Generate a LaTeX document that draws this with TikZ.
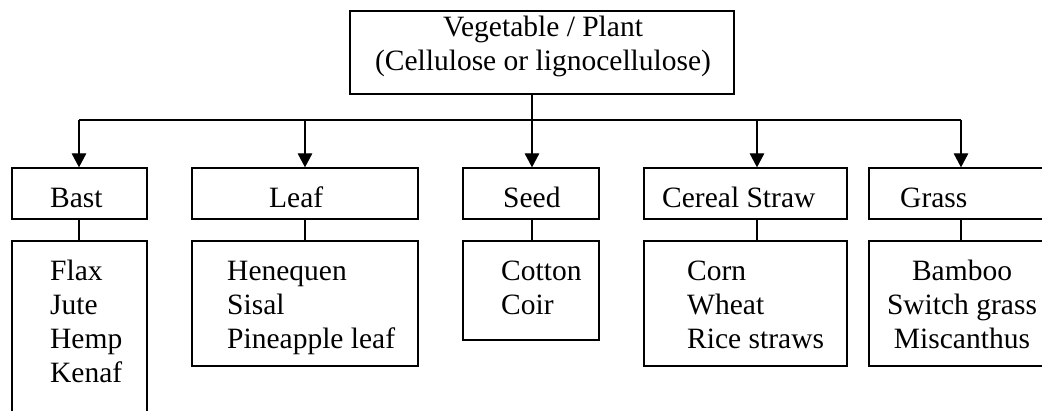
\documentclass[tikz,border=0pt]{standalone}
\usepackage{fontspec}
\setmainfont{Liberation Serif}
\usetikzlibrary{arrows.meta}
\begin{document}
\begin{tikzpicture}[x=1pt,y=-1pt,
  box/.style={draw,line width=1.3pt,inner sep=0pt,minimum width=#1},
  lbl/.style={inner sep=0pt,anchor=base west,font=\fontsize{29.5}{34}\selectfont},
  clbl/.style={inner sep=0pt,anchor=base,font=\fontsize{29.5}{34}\selectfont},
  conn/.style={line width=1.3pt},
  arr/.style={line width=1.3pt,-{Triangle[length=14pt,width=14.5pt]}}]
\useasboundingbox (0,0) rectangle (1042,411);
% root
\node[box=384pt,minimum height=83pt] (root) at (542,52.5) {};
\node[clbl] (root1) at (543,37) {Vegetable / Plant};
\node[clbl] (root2) at (543,71) {(Cellulose or lignocellulose)};
% categories
\node[box=135pt,minimum height=51pt] (bast) at (79.5,193.5) {};
\node[box=226pt,minimum height=51pt] (leaf) at (305,193.5) {};
\node[box=136pt,minimum height=51pt] (seed) at (531,193.5) {};
\node[box=203pt,minimum height=51pt] (cereal) at (745.5,193.5) {};
\node[box=184pt,minimum height=51pt] (grass) at (961,193.5) {};
\node[lbl] (bastt) at (50,208) {Bast};
\node[lbl] (leaft) at (269,208) {Leaf};
\node[lbl] (seedt) at (503,208) {Seed};
\node[lbl] (cerealt) at (662,208) {Cereal Straw};
\node[lbl] (grasst) at (900,208) {Grass};
% lists
\node[box=135pt,minimum height=200pt] (bastl) at (79.5,341) {};
\node[box=226pt,minimum height=125pt] (leafl) at (305,303.5) {};
\node[box=136pt,minimum height=99pt] (seedl) at (531,290.5) {};
\node[box=203pt,minimum height=125pt] (cereall) at (745.5,303.5) {};
\node[box=184pt,minimum height=125pt] (grassl) at (961,303.5) {};
\foreach \t [count=\i] in {Flax,Jute,Hemp,Kenaf}
  \node[lbl] (bastl\i) at (50,{281+34*(\i-1)}) {\t};
\foreach \t [count=\i] in {Henequen,Sisal,Pineapple leaf}
  \node[lbl] (leafl\i) at (227,{281+34*(\i-1)}) {\t};
\foreach \t [count=\i] in {Cotton,Coir}
  \node[lbl] (seedl\i) at (501,{281+34*(\i-1)}) {\t};
\foreach \t [count=\i] in {Corn,Wheat,Rice straws}
  \node[lbl] (cereall\i) at (687,{281+34*(\i-1)}) {\t};
\foreach \t [count=\i] in {Bamboo,Switch grass,Miscanthus}
  \node[clbl] (grassl\i) at (962,{281+34*(\i-1)}) {\t};
% bus
\coordinate (rb) at (532,120);
\coordinate (bb) at (79,120);
\coordinate (lb) at (305,120);
\coordinate (cb) at (757,120);
\coordinate (gb) at (961,120);
\draw[conn] (bb) -- (gb);
\draw[arr] (root.south -| rb) -- (rb |- seed.north);
\draw[arr] (bb) -- (bb |- bast.north);
\draw[arr] (lb) -- (lb |- leaf.north);
\draw[arr] (cb) -- (cb |- cereal.north);
\draw[arr] (gb) -- (gb |- grass.north);
% connectors category -> list
\draw[conn] (bb |- bast.south) -- (bb |- bastl.north);
\draw[conn] (lb |- leaf.south) -- (lb |- leafl.north);
\draw[conn] (rb |- seed.south) -- (rb |- seedl.north);
\draw[conn] (cb |- cereal.south) -- (cb |- cereall.north);
\draw[conn] (gb |- grass.south) -- (gb |- grassl.north);
\end{tikzpicture}
\end{document}
